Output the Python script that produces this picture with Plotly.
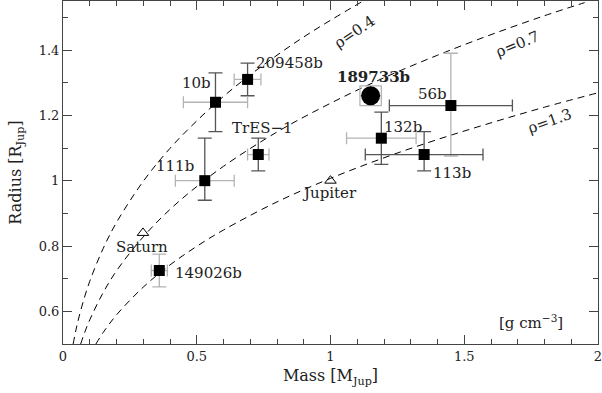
import plotly.graph_objects as go

# transiting planets (mass, radius in Jupiter units)
names = ["209458b", "10b", "TrES\u22121", "111b", "149026b", "189733b", "56b", "132b", "113b"]
mass = [0.69, 0.57, 0.73, 0.53, 0.36, 1.15, 1.45, 1.19, 1.35]
mass_err = [0.05, 0.12, 0.04, 0.11, 0.03, 0.04, 0.23, 0.13, 0.22]
radius = [1.31, 1.24, 1.08, 1.00, 0.725, 1.26, 1.23, 1.13, 1.08]
radius_err_hi = [0.05, 0.09, 0.05, 0.13, 0.05, 0.03, 0.16, 0.08, 0.07]
radius_err_lo = [0.05, 0.09, 0.05, 0.06, 0.05, 0.03, 0.155, 0.08, 0.05]

# solar system reference planets
ss_names = ["Saturn", "Jupiter"]
ss_mass = [0.299, 1.0]
ss_radius = [0.84, 1.0]

# iso-density curves [g cm^-3]
rho_04_mass = [0.038, 0.05, 0.07, 0.1, 0.15, 0.2, 0.3, 0.4, 0.5, 0.6, 0.7, 0.8, 0.9, 1.0, 1.12]
rho_04_radius = [0.50, 0.549, 0.614, 0.692, 0.792, 0.872, 0.998, 1.099, 1.183, 1.258, 1.324, 1.384, 1.440, 1.491, 1.549]
rho_07_mass = [0.066, 0.08, 0.1, 0.15, 0.2, 0.3, 0.4, 0.5, 0.6, 0.8, 1.0, 1.2, 1.4, 1.6, 1.8, 1.95]
rho_07_radius = [0.50, 0.533, 0.574, 0.657, 0.724, 0.828, 0.912, 0.982, 1.044, 1.149, 1.237, 1.315, 1.384, 1.447, 1.505, 1.545]
rho_13_mass = [0.123, 0.15, 0.2, 0.3, 0.4, 0.5, 0.6, 0.8, 1.0, 1.2, 1.4, 1.6, 1.8, 2.0]
rho_13_radius = [0.50, 0.535, 0.589, 0.674, 0.742, 0.799, 0.849, 0.935, 1.007, 1.070, 1.126, 1.177, 1.225, 1.269]
rho_labels = ["\u03c1=0.4", "\u03c1=0.7", "\u03c1=1.3"]

FONT = "DejaVu Serif"
LIGHT = "#b4b4b4"
DARK = "#555555"

# error bar tones per planet (x, y) and cap half-widths, as drawn in the original
tones = {
  "209458b": (LIGHT, DARK), "10b": (LIGHT, DARK), "TrES\u22121": (LIGHT, DARK),
  "111b": (LIGHT, DARK), "149026b": (LIGHT, LIGHT), "189733b": (LIGHT, LIGHT),
  "56b": (DARK, LIGHT), "132b": (LIGHT, DARK), "113b": (DARK, DARK),
}
caps = {"189733b": (10, 11)}
# label placement (data coords of text centre)
label_pos = {
  "209458b": (0.845, 1.36), "10b": (0.50, 1.30), "TrES\u22121": (0.744, 1.16),
  "111b": (0.42, 1.045), "149026b": (0.545, 0.717), "189733b": (1.16, 1.316),
  "56b": (1.38, 1.265), "132b": (1.27, 1.165), "113b": (1.455, 1.025),
  "Saturn": (0.297, 0.796), "Jupiter": (0.998, 0.961),
}
rho_pos = [(1.09, 1.455, -34), (1.70, 1.418, -22), (1.82, 1.183, -20)]

fig = go.Figure()

for mx, ry in [(rho_04_mass, rho_04_radius), (rho_07_mass, rho_07_radius), (rho_13_mass, rho_13_radius)]:
  fig.add_trace(go.Scatter(x=mx, y=ry, mode="lines", line=dict(color="black", width=1, dash="7px,5px"),
                           line_shape="spline", hoverinfo="skip"))

for i, n in enumerate(names):
  cx, cy = tones[n]
  wx, wy = caps.get(n, (6, 7))
  fig.add_trace(go.Scatter(x=[mass[i]], y=[radius[i]], mode="markers", marker=dict(size=1, opacity=0),
                           error_x=dict(type="data", array=[mass_err[i]], color=cx, thickness=1.3, width=wx)))
  fig.add_trace(go.Scatter(x=[mass[i]], y=[radius[i]], mode="markers", marker=dict(size=1, opacity=0),
                           error_y=dict(type="data", array=[radius_err_hi[i]], arrayminus=[radius_err_lo[i]],
                                        color=cy, thickness=1.3, width=wy)))

sq = [i for i, n in enumerate(names) if n != "189733b"]
fig.add_trace(go.Scatter(x=[mass[i] for i in sq], y=[radius[i] for i in sq], mode="markers",
                         marker=dict(symbol="square", size=11, color="black", line=dict(width=0))))
k = names.index("189733b")
fig.add_trace(go.Scatter(x=[mass[k]], y=[radius[k]], mode="markers",
                         marker=dict(symbol="circle", size=19, color="black", line=dict(width=0))))
fig.add_trace(go.Scatter(x=ss_mass, y=ss_radius, mode="markers",
                         marker=dict(symbol="triangle-up-open", size=10, color="black", line=dict(width=1))))

ann = []
for n in names + ss_names:
  x, y = label_pos[n]
  t = "<b>" + n + "</b>" if n == "189733b" else n
  ann.append(dict(x=x, y=y, text=t, showarrow=False, font=dict(family=FONT, size=15, color="#222")))
for (x, y, a), t in zip(rho_pos, rho_labels):
  ann.append(dict(x=x, y=y, text=t, textangle=a, showarrow=False, font=dict(family=FONT, size=15, color="#222")))
ann.append(dict(x=1.75, y=0.567, text="[g cm<sup>\u22123</sup>]", showarrow=False,
                font=dict(family=FONT, size=15, color="#222")))

axis_style = dict(showline=True, linecolor="#444", linewidth=1, mirror="allticks", ticks="inside",
                  tickcolor="#444", ticklen=9, showgrid=False, zeroline=False, automargin=False,
                  ticklabeloverflow="allow",
                  tickfont=dict(family=FONT, size=13, color="#222"))

fig.update_layout(
  width=602, height=393,
  margin=dict(l=63, r=4, t=1, b=49),
  plot_bgcolor="white", paper_bgcolor="white",
  showlegend=False,
  annotations=ann,
  xaxis=dict(range=[0, 2], tickvals=[0, 0.5, 1, 1.5, 2], ticktext=["0", "0.5", "1", "1.5", "2"],
             minor=dict(dtick=0.1, ticks="inside", ticklen=5, tickcolor="#444"),
             title=dict(text="Mass [M<sub>Jup</sub>]", font=dict(family=FONT, size=16, color="#222"), standoff=7),
             **axis_style),
  yaxis=dict(range=[0.5, 1.55], tickvals=[0.6, 0.8, 1.0, 1.2, 1.4], ticktext=["0.6", "0.8", "1", "1.2", "1.4"],
             minor=dict(dtick=0.1, tick0=0.5, ticks="inside", ticklen=5, tickcolor="#444"),
             title=dict(text="Radius [R<sub>Jup</sub>]", font=dict(family=FONT, size=16, color="#222"), standoff=13),
             **axis_style),
)

fig.write_html("out.html", config={"displayModeBar": False},
               post_script="document.body.style.margin='0';")
